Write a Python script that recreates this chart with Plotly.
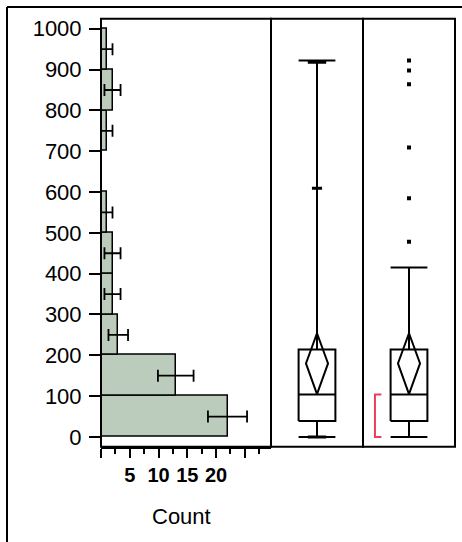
import plotly.graph_objects as go

# ---------------- data ----------------
bin_centers = [50, 150, 250, 350, 450, 550, 650, 750, 850, 950]
bin_width = 100
counts = [22, 13, 3, 2, 2, 1, 0, 1, 2, 1]
count_err = [3.4, 3.1, 1.7, 1.4, 1.4, 1.0, 0.0, 1.0, 1.4, 1.0]
y_ticks = [0, 100, 200, 300, 400, 500, 600, 700, 800, 900, 1000]
x_major = [0, 5, 10, 15, 20, 25]
x_labels = ["", "5", "10", "15", "20", ""]
x_minor = [2.5, 7.5, 12.5, 17.5, 22.5, 27.5]

minimum = 0
q1 = 39
median = 104
q3 = 214
maximum = 922
q975 = 918
q90 = 609
mean = 180
ci_low = 105
ci_high = 254
upper_fence = 415
outliers = [478, 585, 709, 864, 898, 922]
short_half_lo = 0
short_half_hi = 104

# ---------------- styles ----------------
W, H = 462, 542
BAR_FILL = "rgb(188,204,188)"
RED = "rgb(236,62,88)"
FONT = "Liberation Sans, Arial, sans-serif"
LW = 2

def px(x):
    return x / W

def py(y):
    return 1 - y / H

y_dom = [py(449), py(17)]
y_range = [-24.3, 1024.3]

fig = go.Figure()

# Histogram
fig.add_trace(go.Bar(
    x=counts, y=bin_centers, orientation="h", width=bin_width,
    marker=dict(color=BAR_FILL, line=dict(color="black", width=1.5)),
    error_x=dict(type="data", array=count_err, color="black", thickness=1.8, width=6),
    xaxis="x", yaxis="y", showlegend=False, hoverinfo="skip",
))

C = 0.5
BH = 0.2   # box half width
DH = 0.12  # diamond half width
SH = 0.1   # short quantile mark half width
TH = 0.055


def box_traces(xa, ya, lower_end, upper_end, extra):
    # box outline
    fig.add_trace(go.Scatter(
        x=[C - BH, C + BH, C + BH, C - BH, C - BH, None, C - BH, C + BH],
        y=[q1, q1, q3, q3, q1, None, median, median],
        mode="lines", line=dict(color="black", width=LW),
        xaxis=xa, yaxis=ya, showlegend=False, hoverinfo="skip"))
    # whiskers
    fig.add_trace(go.Scatter(
        x=[C, C, None, C, C, None, C - BH, C + BH, None, C - BH, C + BH],
        y=[q3, upper_end, None, q1, lower_end, None, upper_end, upper_end, None, lower_end, lower_end],
        mode="lines", line=dict(color="black", width=LW),
        xaxis=xa, yaxis=ya, showlegend=False, hoverinfo="skip"))
    # mean diamond
    fig.add_trace(go.Scatter(
        x=[C, C + DH, C, C - DH, C],
        y=[ci_low, mean, ci_high, mean, ci_low],
        mode="lines", line=dict(color="black", width=LW),
        xaxis=xa, yaxis=ya, showlegend=False, hoverinfo="skip"))
    if extra:
        fig.add_trace(go.Scatter(
            x=[C - SH, C + SH, None, C - SH, C + SH, None, C - TH, C + TH],
            y=[q975, q975, None, minimum, minimum, None, q90, q90],
            mode="lines", line=dict(color="black", width=3),
            xaxis=xa, yaxis=ya, showlegend=False, hoverinfo="skip"))


# Middle: quantile box plot
box_traces("x2", "y2", minimum, maximum, True)

# Right: outlier box plot
box_traces("x3", "y3", minimum, upper_fence, False)
fig.add_trace(go.Scatter(
    x=[C] * len(outliers), y=outliers, mode="markers",
    marker=dict(symbol="square", size=4, color="black"),
    xaxis="x3", yaxis="y3", showlegend=False, hoverinfo="skip"))
fig.add_trace(go.Scatter(
    x=[C - 0.30, C - 0.37, C - 0.37, C - 0.30],
    y=[short_half_hi, short_half_hi, short_half_lo, short_half_lo],
    mode="lines", line=dict(color=RED, width=2),
    xaxis="x3", yaxis="y3", showlegend=False, hoverinfo="skip"))

# ---------------- layout ----------------
x_scale = 5.75  # pixels per count
hist_w = 271 - 101

fig.update_layout(
    width=W, height=H,
    margin=dict(l=0, r=0, t=0, b=0),
    paper_bgcolor="white", plot_bgcolor="white",
    font=dict(family=FONT, color="black"),
    bargap=0,
    xaxis=dict(
        domain=[px(101), px(271)], range=[0, hist_w / x_scale], anchor="y",
        showgrid=False, zeroline=False, showline=True, linecolor="black", linewidth=LW,
        tickmode="array", tickvals=x_major, ticktext=["<b>%s</b>" % t if t else "" for t in x_labels],
        ticks="outside", ticklen=9, tickwidth=1.5, tickcolor="black",
        tickfont=dict(size=20, family=FONT, color="black"),
        minor=dict(tickmode="array", tickvals=x_minor, ticks="outside", ticklen=5,
                   tickwidth=1.5, tickcolor="black"),
    ),
    yaxis=dict(
        domain=y_dom, range=y_range, anchor="x",
        showgrid=False, zeroline=False, showline=False,
        tickmode="array", tickvals=y_ticks,
        ticks="outside", ticklen=11, tickwidth=2, tickcolor="black",
        tickfont=dict(size=22, family=FONT, color="black"),
        ticklabelstandoff=3,
    ),
    xaxis2=dict(domain=[px(271), px(363)], range=[0, 1], anchor="y2",
                showgrid=False, zeroline=False, showticklabels=False, ticks=""),
    yaxis2=dict(domain=y_dom, range=y_range, anchor="x2", matches="y",
                showgrid=False, zeroline=False, showticklabels=False, ticks=""),
    xaxis3=dict(domain=[px(363), px(455)], range=[0, 1], anchor="y3",
                showgrid=False, zeroline=False, showticklabels=False, ticks=""),
    yaxis3=dict(domain=y_dom, range=y_range, anchor="x3", matches="y",
                showgrid=False, zeroline=False, showticklabels=False, ticks=""),
    shapes=[
        dict(type="rect", xref="x domain", yref="y domain", x0=0, x1=1, y0=0, y1=1,
             line=dict(color="black", width=LW), layer="above"),
        dict(type="rect", xref="x2 domain", yref="y2 domain", x0=0, x1=1, y0=0, y1=1,
             line=dict(color="black", width=LW), layer="above"),
        dict(type="rect", xref="x3 domain", yref="y3 domain", x0=0, x1=1, y0=0, y1=1,
             line=dict(color="black", width=LW), layer="above"),
        # outer report frame (left and top edges visible)
        dict(type="line", xref="paper", yref="paper", x0=px(7), x1=px(7), y0=py(5), y1=py(560),
             line=dict(color="black", width=2)),
        dict(type="line", xref="paper", yref="paper", x0=px(7), x1=px(480), y0=py(5), y1=py(5),
             line=dict(color="black", width=2)),
    ],
    annotations=[
        dict(text="Count", xref="paper", yref="paper", x=px(181), y=py(519),
             showarrow=False, font=dict(size=22, family=FONT, color="black"),
             xanchor="center", yanchor="middle"),
    ],
)

fig.write_html(
    "out.html",
    config={"displayModeBar": False},
    post_script="document.body.style.margin='0';document.body.style.overflow='hidden';",
)
